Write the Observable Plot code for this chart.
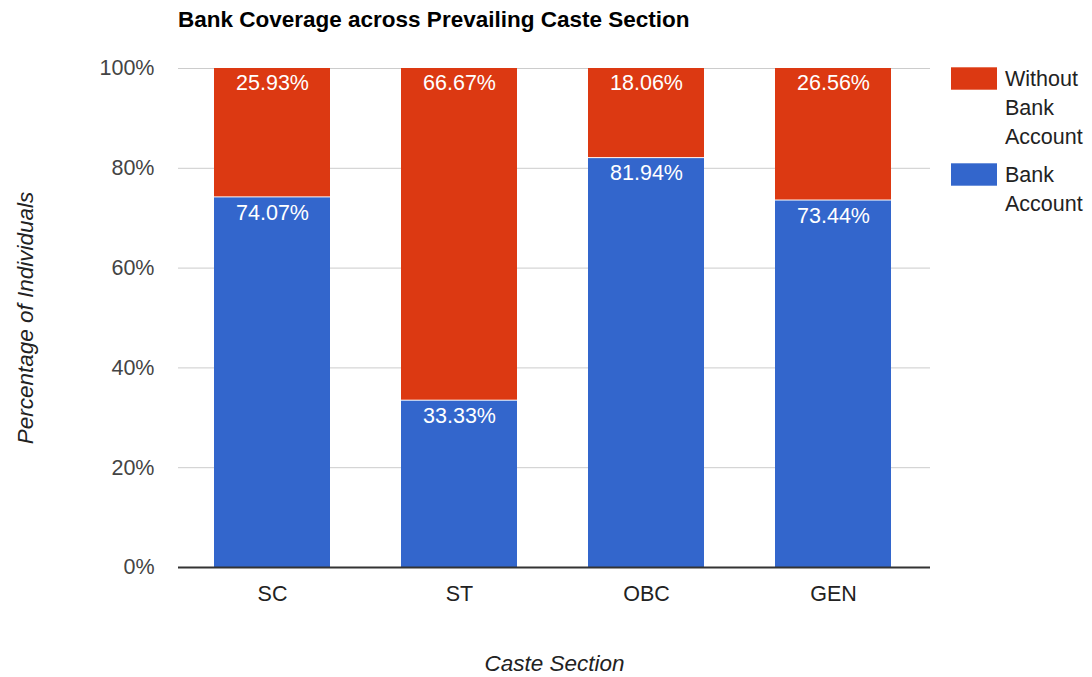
<!DOCTYPE html>
<html><head><meta charset="utf-8">
<script src="https://cdn.jsdelivr.net/npm/d3@7"></script>
<script src="https://cdn.jsdelivr.net/npm/@observablehq/plot@0.6"></script>
<style>body{margin:0;background:#fff;} #chart{position:relative;width:1092px;height:677px;}</style>
</head><body><div id="chart"></div>
<script>
const chartTitle = "Bank Coverage across Prevailing Caste Section";
const xTitle = "Caste Section";
const yTitle = "Percentage of Individuals";
const categories = ["SC", "ST", "OBC", "GEN"];
const bankAccount = [74.07, 33.33, 81.94, 73.44];
const withoutBankAccount = [25.93, 66.67, 18.06, 26.56];
const yTicks = [0, 20, 40, 60, 80, 100];
const seriesNames = ["Without Bank Account", "Bank Account"];
const seriesColors = ["#dc3912", "#3366cc"];

const rows = categories.map((c, i) => ({
  cat: c, bank: bankAccount[i], without: withoutBankAccount[i],
  top: bankAccount[i] + withoutBankAccount[i]
}));
const fmt = v => v.toFixed(2) + "%";
const font = "'Liberation Sans', Arial, sans-serif";

const plot = Plot.plot({
  width: 1092, height: 677,
  marginLeft: 178, marginRight: 162, marginTop: 68, marginBottom: 110,
  style: {fontFamily: font, fontSize: "21.5px", background: "#fff", overflow: "visible"},
  x: {domain: categories, paddingInner: 0.38, paddingOuter: 0.2, align: 0.475, label: null},
  y: {domain: [0, 100], ticks: yTicks, label: null},
  marks: [
    Plot.gridY(yTicks, {stroke: "#ccc", strokeOpacity: 1}),
    Plot.barY(rows, {x: "cat", y1: 0, y2: "bank", fill: seriesColors[1]}),
    Plot.barY(rows, {x: "cat", y1: "bank", y2: "top", fill: seriesColors[0], insetBottom: 1}),
    Plot.ruleY([0], {stroke: "#333", strokeWidth: 2}),
    Plot.text(rows, {x: "cat", y: "bank", text: d => fmt(d.bank), fill: "white", lineAnchor: "top", dy: 6.5}),
    Plot.text(rows, {x: "cat", y: "top", text: d => fmt(d.without), fill: "white", lineAnchor: "top", dy: 6.5}),
    Plot.axisY(yTicks, {tickSize: 0, tickPadding: 24, tickFormat: d => d + "%", fill: "#444", label: null}),
    Plot.axisX({tickSize: 0, tickPadding: 18, fill: "#222", label: null}),
    Plot.text([xTitle], {frameAnchor: "bottom", dy: 96, lineAnchor: "middle", textAnchor: "middle", text: d => d, fontStyle: "italic", fontSize: 22.5, fill: "#222"}),
    Plot.text([yTitle], {frameAnchor: "left", dx: -153, rotate: -90, lineAnchor: "middle", textAnchor: "middle", text: d => d, fontStyle: "italic", fontSize: 22.5, fill: "#222"})
  ]
});

const svg = d3.select(plot);
svg.append("text")
  .attr("x", 178).attr("y", 27).attr("text-anchor", "start")
  .attr("font-family", font).attr("font-weight", "bold").attr("font-size", 22.5)
  .attr("fill", "#000").text(chartTitle);

const legendTop = [67.3, 163.3];
const legendBaseline = [86, 181.7];
seriesNames.forEach((name, i) => {
  const g = svg.append("g");
  g.append("rect").attr("x", 951).attr("y", legendTop[i]).attr("width", 46).attr("height", 22.4).attr("fill", seriesColors[i]);
  const t = g.append("text").attr("text-anchor", "start").attr("font-family", font).attr("font-size", 21.5).attr("fill", "#222");
  name.split(" ").forEach((w, j) => {
    t.append("tspan").attr("x", 1005).attr("y", legendBaseline[i] + j * 29).text(w);
  });
});

document.getElementById("chart").appendChild(plot);
</script>
</body></html>
